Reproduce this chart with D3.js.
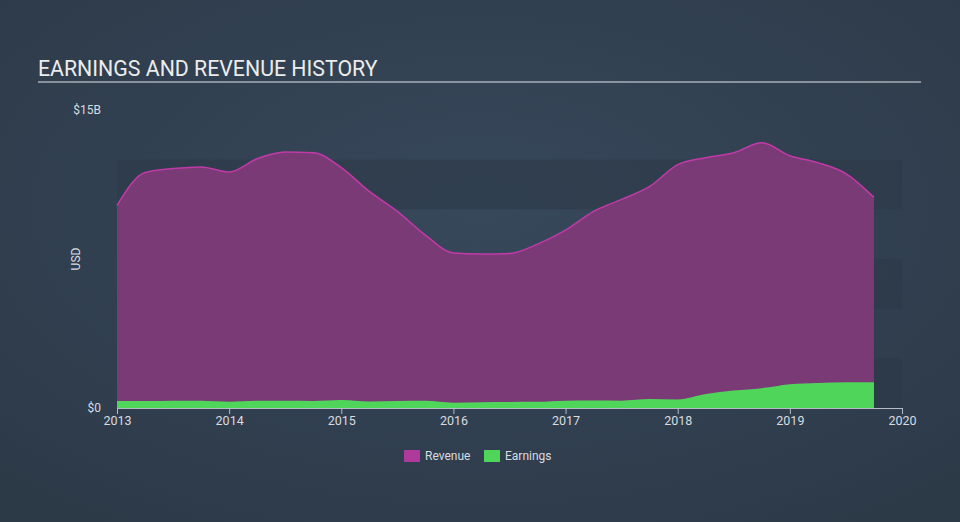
<!DOCTYPE html>
<html>
<head>
<meta charset="utf-8">
<script src="https://cdnjs.cloudflare.com/ajax/libs/d3/7.8.5/d3.min.js"></script>
<style>
  html, body { margin: 0; padding: 0; background: #323f4f; }
  svg { display: block; }
  text { font-family: Roboto, "Open Sans", sans-serif; }
</style>
</head>
<body>
<svg id="chart" width="960" height="522"></svg>
<script>
// Quarterly dates (decimal years)
const dates = [2013.00, 2013.25, 2013.50, 2013.75, 2014.00, 2014.25, 2014.50, 2014.75,
               2015.00, 2015.25, 2015.50, 2015.75, 2016.00, 2016.25, 2016.50, 2016.75,
               2017.00, 2017.25, 2017.50, 2017.75, 2018.00, 2018.25, 2018.50, 2018.75,
               2019.00, 2019.25, 2019.50, 2019.75];
// Revenue in billions USD
const revenue = [10.2, 11.85, 12.05, 12.13, 11.88, 12.55, 12.88, 12.85,
                 12.1, 10.9, 9.9, 8.7, 7.8, 7.75, 7.78, 8.25,
                 8.95, 9.9, 10.5, 11.15, 12.25, 12.6, 12.85, 13.35,
                 12.7, 12.35, 11.8, 10.6];
// Earnings in billions USD
const earnings = [0.35, 0.35, 0.37, 0.37, 0.32, 0.36, 0.36, 0.35,
                  0.40, 0.33, 0.35, 0.36, 0.27, 0.29, 0.30, 0.31,
                  0.37, 0.38, 0.37, 0.45, 0.43, 0.70, 0.88, 1.00,
                  1.20, 1.26, 1.29, 1.29];
const xTicks = [2013, 2014, 2015, 2016, 2017, 2018, 2019, 2020];
const yTickLabels = ["$0", "$15B"];
const yTickValues = [0, 15];
const seriesNames = ["Revenue", "Earnings"];
const seriesColors = ["#b03a9c", "#4fd65a"];

const svg = d3.select("#chart");
const W = 960, H = 522;

// background
const defs = svg.append("defs");
const rg = defs.append("radialGradient").attr("id", "bg")
  .attr("cx", "50%").attr("cy", "40%").attr("r", "75%");
rg.append("stop").attr("offset", "0%").attr("stop-color", "#37485b");
rg.append("stop").attr("offset", "100%").attr("stop-color", "#2c3947");
svg.append("rect").attr("width", W).attr("height", H).attr("fill", "url(#bg)");

// title
svg.append("text").attr("x", 38).attr("y", 76)
  .attr("fill", "#ececec").attr("font-size", 21.3)
  .text("EARNINGS AND REVENUE HISTORY");
svg.append("line").attr("x1", 38).attr("x2", 921).attr("y1", 82).attr("y2", 82)
  .attr("stroke", "#a9afb7").attr("stroke-width", 1.5);

const x = d3.scaleLinear().domain([2013, 2020]).range([117, 902]);
const y = d3.scaleLinear().domain([0, 15]).range([408, 110]);

// alternating bands
const bandG = svg.append("g");
for (let i = 0; i < 5; i++) {
  if (i % 2 === 0) {
    bandG.append("rect")
      .attr("x", x(2013)).attr("width", x(2020) - x(2013))
      .attr("y", y((i + 1) * 2.5)).attr("height", y(i * 2.5) - y((i + 1) * 2.5))
      .attr("fill", "#2b3847").attr("opacity", 0.55);
  }
}

const data = dates.map((d, i) => ({ t: d, r: revenue[i], e: earnings[i] }));

const revArea = d3.area().x(d => x(d.t)).y0(y(0)).y1(d => y(d.r)).curve(d3.curveMonotoneX);
const revLine = d3.line().x(d => x(d.t)).y(d => y(d.r)).curve(d3.curveMonotoneX);
const earnArea = d3.area().x(d => x(d.t)).y0(y(0)).y1(d => y(d.e)).curve(d3.curveMonotoneX);

svg.append("path").datum(data).attr("d", revArea).attr("fill", "#7a3a76");
svg.append("path").datum(data).attr("d", revLine).attr("fill", "none")
  .attr("stroke", "#c03aa8").attr("stroke-width", 1.5);
svg.append("path").datum(data).attr("d", earnArea).attr("fill", seriesColors[1]);

// x axis
const xAxis = d3.axisBottom(x).tickValues(xTicks).tickFormat(d3.format("d")).tickSize(6).tickSizeOuter(0);
const gx = svg.append("g").attr("transform", `translate(0,${y(0)})`).call(xAxis);
gx.select(".domain").attr("stroke", "#b5bcc6");
gx.selectAll(".tick line").attr("stroke", "#b5bcc6");
gx.selectAll(".tick text").attr("fill", "#d8dce0").attr("font-size", 12.5)
  .attr("font-family", "Roboto, sans-serif").attr("dy", "0.65em");

// y labels
svg.selectAll(".ylab").data(yTickValues).enter().append("text")
  .attr("class", "ylab")
  .attr("x", 101).attr("y", d => y(d))
  .attr("dy", "0.35em")
  .attr("text-anchor", "end")
  .attr("fill", "#d8dce0").attr("font-size", 12)
  .text((d, i) => yTickLabels[i]);

svg.append("text").attr("transform", "translate(80,259) rotate(-90)")
  .attr("text-anchor", "middle").attr("fill", "#d8dce0").attr("font-size", 12)
  .text("USD");

// legend
const legendX = [404, 484];
const lg = svg.append("g");
seriesNames.forEach((n, i) => {
  lg.append("rect").attr("x", legendX[i]).attr("y", 450).attr("width", 16).attr("height", 12)
    .attr("fill", seriesColors[i]);
  lg.append("text").attr("x", legendX[i] + 21).attr("y", 456).attr("dy", "0.35em")
    .attr("fill", "#d8dce0").attr("font-size", 12).text(n);
});
</script>
</body>
</html>
